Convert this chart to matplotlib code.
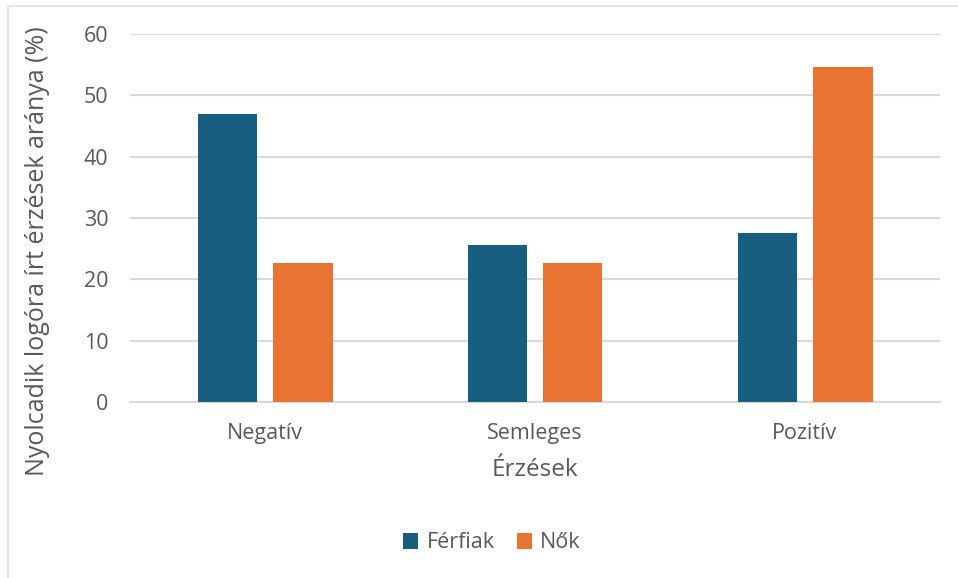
import numpy as np
import matplotlib
matplotlib.use('Agg')
import matplotlib.pyplot as plt
from matplotlib.patches import Rectangle

# data
categories = ['Negatív', 'Semleges', 'Pozitív']
ferfiak = [47.0, 25.6, 27.6]
nok = [22.7, 22.7, 54.6]
series_names = ['Férfiak', 'Nők']

blue = '#175e81'
orange = '#e97332'
txt = '#595959'
grid_c = '#d9d9d9'

plt.rcParams['font.family'] = ['Open Sans', 'DejaVu Sans']

W, H = 958, 578
fig = plt.figure(figsize=(W/100, H/100), dpi=100)

# outer frame (light border at top and left)
fig.patches.append(Rectangle((8/W, -0.01), 1.0, (H-6)/H + 0.01, transform=fig.transFigure,
                             fill=False, edgecolor='#e3e3e3', linewidth=1.5))

ax = fig.add_axes([130/W, (H-402)/H, 810/W, 368/H])

x = np.arange(len(categories))
bw = 0.222
off = 0.139
ax.bar(x - off, ferfiak, width=bw, color=blue, label=series_names[0], zorder=3)
ax.bar(x + off, nok, width=bw, color=orange, label=series_names[1], zorder=3)

ax.set_xlim(-0.5, 2.5)
ax.set_ylim(0, 60)
ax.set_yticks(np.arange(0, 61, 10))
ax.set_xticks(x, categories)
ax.yaxis.grid(True, color=grid_c, linewidth=1.5, zorder=0)
ax.set_axisbelow(True)
for s in ['top', 'right', 'left']:
    ax.spines[s].set_visible(False)
ax.spines['bottom'].set_color(grid_c)
ax.spines['bottom'].set_linewidth(1.5)
ax.tick_params(axis='both', length=0, colors=txt, labelsize=15.5)
ax.tick_params(axis='y', pad=15.5)
ax.tick_params(axis='x', pad=15)

fig.text(535/W, 1 - 470/H, 'Érzések', ha='center', va='center', fontsize=17.5, color=txt)
fig.text(38/W, 1 - 251/H, 'Nyolcadik logóra írt érzések aránya (%)', ha='center', va='center',
         rotation=90, fontsize=18, color=txt)

ax.legend(loc='center', bbox_to_anchor=(492/W, 1 - 543/H), bbox_transform=fig.transFigure,
          ncol=2, frameon=False, fontsize=15.5, labelcolor=txt, handlelength=0.7, handleheight=0.7,
          handletextpad=0.4, columnspacing=1.0)

fig.savefig('out.png', dpi=100)
